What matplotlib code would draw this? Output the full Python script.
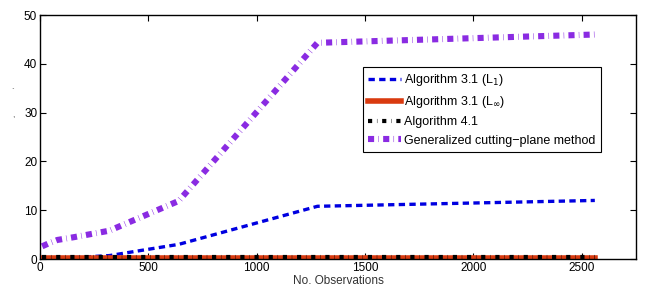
import matplotlib.pyplot as plt
import numpy as np

n_obs = [10, 20, 40, 80, 160, 320, 640, 1280, 2560]
alg31_l1 = [0.1, 0.1, 0.15, 0.2, 0.3, 0.7, 3.0, 10.8, 12.0]
alg31_linf = [0.3, 0.3, 0.3, 0.3, 0.3, 0.3, 0.3, 0.3, 0.3]
alg41 = [0.5, 0.5, 0.5, 0.5, 0.5, 0.5, 0.5, 0.5, 0.5]
gcp = [2.6, 2.8, 3.2, 3.9, 4.5, 5.8, 11.9, 44.3, 46.0]

plt.rcParams['font.family'] = ['Liberation Sans', 'DejaVu Sans']

fig = plt.figure(figsize=(6.49, 3.0), dpi=100)
ax = fig.add_axes([40/649, 41/300, 596/649, 244/300])

ax.plot(n_obs, alg31_l1, '--', color='#0000e0', lw=2.4, dashes=(1.9, 1.3), label='Algorithm 3.1 (L$_1$)')
ax.plot(n_obs, alg31_linf, '-', color='#d93a0f', lw=4, label='Algorithm 3.1 (L$_\\infty$)')
ax.plot(n_obs, alg41, '-.', color='black', lw=3, dashes=(1.0, 1.15, 0.1, 1.15), label='Algorithm 4.1')
ax.plot(n_obs, gcp, '-.', color='#8a2be2', lw=4.4, dashes=(1.0, 0.7, 0.08, 0.7),
        label='Generalized cutting\u2212plane method')

ax.set_xlim(0, 2750)
ax.set_ylim(0, 50)
ax.set_xticks([0, 500, 1000, 1500, 2000, 2500])
ax.set_yticks([0, 10, 20, 30, 40, 50])
ax.tick_params(direction='in', top=True, right=True, labelsize=8.5, length=4, pad=2)
for s in ax.spines.values():
    s.set_linewidth(1.0)
ax.set_xlabel('No. Observations', fontsize=8.5, labelpad=1, color='#333333')

fig.text(12/649, 1 - 93/300, '`', fontsize=6, color='#444444')
fig.text(12/649, 1 - 117/300, ',', fontsize=6, color='#444444')

leg = ax.legend(loc='upper left', bbox_to_anchor=((363-40)/596, (259-67)/244), fontsize=9,
                frameon=True, fancybox=False, edgecolor='black', framealpha=1,
                handlelength=2.6, handletextpad=0.3, borderpad=0.4, labelspacing=0.5,
                borderaxespad=0)
leg.get_frame().set_linewidth(0.8)

fig.savefig('out.png', dpi=100)
